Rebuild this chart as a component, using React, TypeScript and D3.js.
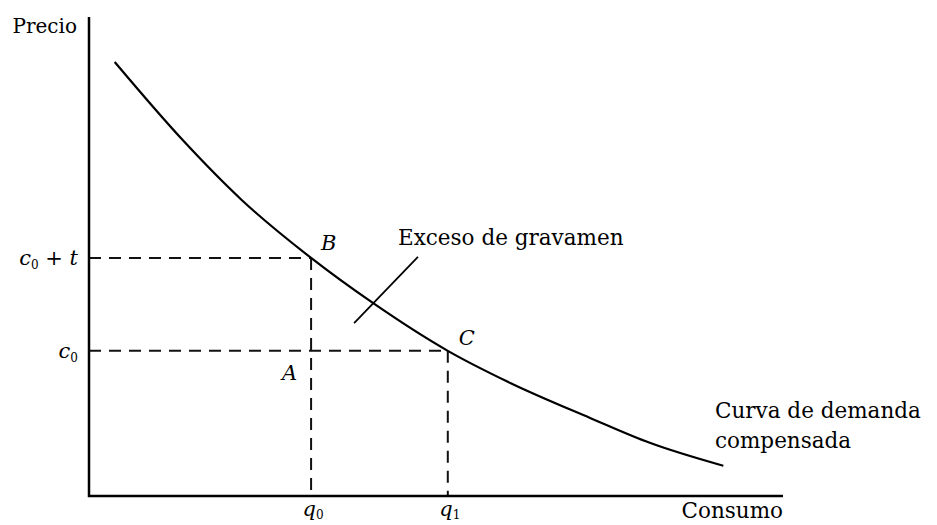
import { useEffect, useRef } from "react";
import * as d3 from "d3";

// demand curve points (quantity, price), abstract units
const demandQ = [0.37, 1.35, 2.2, 3.2, 4.09, 5.17, 6.07, 7.22, 8.08, 9.14];
const demandP = [9.06, 7.43, 6.18, 4.97, 4.03, 3.03, 2.36, 1.63, 1.11, 0.63];

// quantities and prices marked on the axes
const quantities = [3.2, 5.17];
const quantityLabels = ["q", "q"];
const quantitySubs = ["0", "1"];
const prices = [4.97, 3.03];

// leader line of "Exceso de gravamen"
const leaderQ = [3.82, 4.74];
const leaderP = [3.61, 4.99];

const W = 937;
const H = 525;

const App = () => {
  const ref = useRef<SVGSVGElement>(null);

  useEffect(() => {
    const svg = d3.select(ref.current);
    svg.selectAll("*").remove();

    const x = d3.scaleLinear().domain([0, 10]).range([89, 783]);
    const y = d3.scaleLinear().domain([0, 10]).range([496, 17]);
    const font = "'DejaVu Serif', serif";

    const g = svg.append("g");

    // dashed guides
    const dash = g.append("g").attr("stroke", "#111").attr("stroke-width", 2).attr("stroke-dasharray", "12,8");
    dash.append("line").attr("x1", x(0)).attr("x2", x(quantities[0])).attr("y1", y(prices[0])).attr("y2", y(prices[0]));
    dash.append("line").attr("x1", x(0)).attr("x2", x(quantities[1])).attr("y1", y(prices[1])).attr("y2", y(prices[1]));
    dash.append("line").attr("x1", x(quantities[0])).attr("x2", x(quantities[0])).attr("y1", y(prices[0])).attr("y2", y(0));
    dash.append("line").attr("x1", x(quantities[1])).attr("x2", x(quantities[1])).attr("y1", y(prices[1])).attr("y2", y(0));

    // axes
    g.append("path")
      .attr("d", `M${x(0)},${y(10)}V${y(0)}H${x(10)}`)
      .attr("fill", "none")
      .attr("stroke", "#000")
      .attr("stroke-width", 2.5);

    // demand curve
    const line = d3
      .line<number>()
      .x((d) => x(d))
      .y((_, i) => y(demandP[i]))
      .curve(d3.curveMonotoneX);
    g.append("path")
      .attr("d", line(demandQ))
      .attr("fill", "none")
      .attr("stroke", "#000")
      .attr("stroke-width", 2.2);

    // leader line
    g.append("line")
      .attr("x1", x(leaderQ[0]))
      .attr("y1", y(leaderP[0]))
      .attr("x2", x(leaderQ[1]))
      .attr("y2", y(leaderP[1]))
      .attr("stroke", "#000")
      .attr("stroke-width", 1.8);

    const text = (tx: number, ty: number, s: string, anchor = "start", italic = false) =>
      g
        .append("text")
        .attr("x", tx)
        .attr("y", ty)
        .attr("text-anchor", anchor)
        .attr("font-family", font)
        .attr("font-size", 21)
        .attr("font-style", italic ? "italic" : "normal")
        .attr("fill", "#000")
        .text(s);

    text(x(0) - 12, y(10) + 16, "Precio", "end").attr("font-size", 20);
    text(x(10), y(0) + 22, "Consumo", "end").attr("font-size", 21.5);
    text(398, 245, "Exceso de gravamen").attr("font-size", 21.5);
    text(715, 418, "Curva de demanda").attr("font-size", 21.5);
    text(715, 448, "compensada").attr("font-size", 21.5);

    // points
    text(x(quantities[0]) + 10, y(prices[0]) - 8, "B", "start", true);
    text(x(quantities[0]) - 29, y(prices[1]) + 29, "A", "start", true);
    text(x(quantities[1]) + 11, y(prices[1]) - 6, "C", "start", true);

    // price labels
    const c0t = text(x(0) - 11, y(prices[0]) + 7, "", "end", true);
    c0t.append("tspan").text("c");
    c0t.append("tspan").attr("font-size", 12).attr("dy", 4).attr("font-style", "normal").text("0");
    c0t.append("tspan").attr("dy", -4).text(" + t");
    const c0 = text(x(0) - 11, y(prices[1]) + 7, "", "end", true);
    c0.append("tspan").text("c");
    c0.append("tspan").attr("font-size", 12).attr("dy", 4).attr("font-style", "normal").text("0");

    // quantity labels
    quantities.forEach((q, i) => {
      const t = text(x(q) + 2, y(0) + 20, "", "middle", true);
      t.append("tspan").text(quantityLabels[i]);
      t.append("tspan").attr("font-size", 12).attr("dy", 3).attr("font-style", "normal").text(quantitySubs[i]);
    });
  }, []);

  return (
    <svg
      ref={ref}
      width={W}
      height={H}
      style={{ position: "absolute", left: 0, top: 0, background: "#fff" }}
    />
  );
};

export default App;
